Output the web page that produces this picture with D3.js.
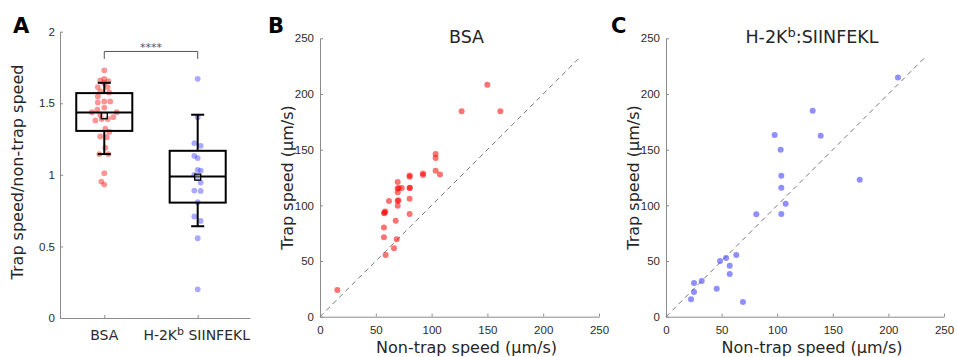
<!DOCTYPE html>
<html>
<head>
<meta charset="utf-8">
<script src="https://cdn.jsdelivr.net/npm/d3@7"></script>
<style>
	body { margin: 0; background: #fff; }
	svg { font-family: "DejaVu Sans", Verdana, sans-serif; }
	.axis path, .axis line { stroke: #8c8c8c; }
	.axis text { fill: #2b2b2b; font-size: 11.5px; }
</style>
</head>
<body>
<div id="chart"></div>
<script>
// ---- data ----
const categories = ["BSA", "H-2Kb SIINFEKL"];
const ratioTicks = [0, 0.5, 1, 1.5, 2];
const speedTicks = [0, 50, 100, 150, 200, 250];

// panel A: individual ratios and their horizontal jitter (category units)
const bsaRatio = [1.73, 1.671, 1.66, 1.655, 1.64, 1.613, 1.613, 1.583, 1.576, 1.548, 1.506, 1.513, 1.513, 1.47,
	1.438, 1.455, 1.438, 1.38, 1.39, 1.39, 1.403, 1.42, 1.322, 1.30, 1.268, 1.263, 1.19, 1.145, 1.145, 1.012, 0.953, 0.932];
const bsaJitter = [0, 0, -0.043, 0.043, 0, -0.069, 0.037, -0.043, 0.053, -0.069, -0.069, 0, 0.064, 0,
	-0.133, -0.074, 0.133, -0.096, -0.027, 0.037, 0.096, -0.043, 0.011, 0.053, -0.043, 0.027, 0.011, -0.053, 0.043, 0, -0.032, 0];
const kbRatio = [1.671, 1.403, 1.222, 1.203, 1.133, 1.117, 1.035, 1.03, 1.0, 0.98, 0.946, 0.89, 0.888, 0.809, 0.709, 0.678, 0.557, 0.2];
const kbJitter = [0, 0, -0.036, 0.032, -0.036, 0, 0, 0.032, -0.036, 0, 0.032, -0.036, 0.032, 0, -0.036, 0.032, 0, 0];

// panel A: box statistics [BSA, H-2Kb]
const boxQ1 = [1.307, 0.806];
const boxMedian = [1.436, 0.988];
const boxQ3 = [1.571, 1.168];
const boxMean = [1.413, 0.984];
const whiskerLow = [1.145, 0.641];
const whiskerHigh = [1.643, 1.42];
const sigBracket = [1.81, 1.862];

// panel B: BSA non-trap vs trap speed (µm/s)
const bsaNonTrap = [15.5, 58.8, 66.3, 68.7, 57.3, 57.3, 67.8, 80.3, 57.5, 58.5, 57.8, 61.8, 69.6, 69.6, 70.2, 80.3, 69.6,
	69.6, 70.5, 69.6, 73.2, 80.3, 80.5, 80.3, 80.3, 92.3, 92.3, 103.6, 107.5, 103.6, 103.6, 126.9, 149.9, 161.6];
const bsaTrap = [24, 55.4, 61.4, 69.5, 71.3, 80.2, 86.2, 92.2, 93, 94.5, 93.5, 103.9, 99.6, 103.9, 104.5, 105.9, 111.7,
	115.2, 115.5, 120.9, 115.5, 115.5, 115.8, 125.7, 126.9, 127.3, 128.6, 131, 127.8, 142.4, 146, 184.6, 208.2, 184.6];

// panel C: H-2Kb:SIINFEKL non-trap vs trap speed (µm/s)
const kbNonTrap = [22.5, 25.2, 25.2, 32.1, 45.6, 48.6, 54, 57.3, 57.3, 63.2, 69.2, 81.2, 103.7, 107.6, 103.7, 103.7,
	103.1, 97.7, 131.9, 139.1, 174.2, 208.6];
const kbTrap = [15.6, 22.2, 30.2, 32, 25.1, 50, 52.7, 45.8, 38.3, 55.4, 13.2, 91.9, 92.2, 101.4, 115.8, 126.6,
	149.9, 163.1, 184.9, 162.5, 123, 214.9];

const diagonal = [0, 233];

// ---- drawing ----
const W = 957, H = 357;
const svg = d3.select("#chart").append("svg").attr("width", W).attr("height", H);

const red = "#ff0000", blue = "#3333ff";

function panelLabel(txt, x) {
	svg.append("text").attr("x", x).attr("y", 32.5)
		.attr("font-size", 21).attr("font-weight", "bold").attr("fill", "#000").text(txt);
}

// ======== Panel A ========
const xA = d3.scaleLinear().domain([0.526, 2.56]).range([60, 250]);
const yA = d3.scaleLinear().domain([0, 2]).range([318, 31.7]);

const gA = svg.append("g");
gA.append("g").attr("class", "axis").attr("transform", "translate(60,0)")
	.call(d3.axisLeft(yA).tickValues(ratioTicks).tickSize(-3).tickSizeOuter(0).tickPadding(5)
		.tickFormat(d3.format("")));
gA.append("g").attr("class", "axis").attr("transform", "translate(0,318)")
	.call(d3.axisBottom(xA).tickValues([1, 2]).tickSize(-3).tickSizeOuter(0).tickFormat(""));

// category labels (with superscript)
gA.append("text").attr("x", xA(1)).attr("y", 340).attr("text-anchor", "middle")
	.attr("font-size", 14).attr("fill", "#2b2b2b").text(categories[0]);
const lab2 = gA.append("text").attr("x", xA(2) - 1).attr("y", 340).attr("text-anchor", "middle")
	.attr("font-size", 14).attr("fill", "#2b2b2b");
lab2.append("tspan").text("H-2K");
lab2.append("tspan").attr("dy", -5).attr("font-size", 11).text("b");
lab2.append("tspan").attr("dy", 5).text(" SIINFEKL");

gA.append("text").attr("transform", "translate(23,172) rotate(-90)").attr("text-anchor", "middle")
	.attr("font-size", 16).attr("fill", "#262626").text("Trap speed/non-trap speed");

// dots
const dotsA = [
	...bsaRatio.map((v, i) => ({ x: 1 + bsaJitter[i], y: v, c: red })),
	...kbRatio.map((v, i) => ({ x: 2 + kbJitter[i], y: v, c: blue })),
];
gA.append("g").selectAll("circle").data(dotsA).join("circle")
	.attr("cx", (d) => xA(d.x)).attr("cy", (d) => yA(d.y)).attr("r", 2.9)
	.attr("fill", (d) => d.c).attr("fill-opacity", 0.42);

// boxes
const boxW = 0.6, capW = 0.14;
[0, 1].forEach((i) => {
	const c = i + 1;
	const g = gA.append("g").attr("fill", "none").attr("stroke", "#000").attr("stroke-width", 2);
	g.append("line").attr("x1", xA(c)).attr("x2", xA(c)).attr("y1", yA(boxQ3[i])).attr("y2", yA(whiskerHigh[i]));
	g.append("line").attr("x1", xA(c)).attr("x2", xA(c)).attr("y1", yA(boxQ1[i])).attr("y2", yA(whiskerLow[i]));
	g.append("line").attr("x1", xA(c - capW / 2)).attr("x2", xA(c + capW / 2))
		.attr("y1", yA(whiskerHigh[i])).attr("y2", yA(whiskerHigh[i]));
	g.append("line").attr("x1", xA(c - capW / 2)).attr("x2", xA(c + capW / 2))
		.attr("y1", yA(whiskerLow[i])).attr("y2", yA(whiskerLow[i]));
	g.append("rect").attr("x", xA(c - boxW / 2)).attr("y", yA(boxQ3[i]))
		.attr("width", xA(c + boxW / 2) - xA(c - boxW / 2)).attr("height", yA(boxQ1[i]) - yA(boxQ3[i]));
	g.append("line").attr("x1", xA(c - boxW / 2)).attr("x2", xA(c + boxW / 2))
		.attr("y1", yA(boxMedian[i])).attr("y2", yA(boxMedian[i]));
	g.append("rect").attr("x", xA(c) - 3).attr("y", yA(boxMean[i]) - 3).attr("width", 6).attr("height", 6)
		.attr("stroke-width", 1.3).attr("fill", "#fff").attr("fill-opacity", 0.3);
});

// significance bracket
gA.append("path")
	.attr("d", `M${xA(1)},${yA(sigBracket[0])}V${yA(sigBracket[1])}H${xA(2)}V${yA(sigBracket[0])}`)
	.attr("fill", "none").attr("stroke", "#555").attr("stroke-width", 1);
gA.append("text").attr("x", (xA(1) + xA(2)) / 2).attr("y", 51).attr("text-anchor", "middle")
	.attr("font-size", 11).attr("fill", "#555").text("****");

panelLabel("A", 13);

// ======== Panels B and C ========
function scatterPanel(x0, x1, nonTrap, trap, color, title) {
	const x = d3.scaleLinear().domain([0, 250]).range([x0, x1]);
	const y = d3.scaleLinear().domain([0, 250]).range([316.7, 38.3]);
	const g = svg.append("g");

	g.append("g").attr("class", "axis").attr("transform", `translate(${x0},0)`)
		.call(d3.axisLeft(y).tickValues(speedTicks).tickSize(-3).tickSizeOuter(0).tickPadding(6));
	g.append("g").attr("class", "axis").attr("transform", `translate(0,${y(0)})`)
		.call(d3.axisBottom(x).tickValues(speedTicks).tickSize(-3).tickSizeOuter(0).tickPadding(9));

	g.append("line")
		.attr("x1", x(diagonal[0])).attr("y1", y(diagonal[0]))
		.attr("x2", x(diagonal[1])).attr("y2", y(diagonal[1]))
		.attr("stroke", "#777").attr("stroke-width", 1).attr("stroke-dasharray", "5,4");

	g.append("g").selectAll("circle").data(nonTrap.map((v, i) => [v, trap[i]])).join("circle")
		.attr("cx", (d) => x(d[0])).attr("cy", (d) => y(d[1])).attr("r", 3)
		.attr("fill", color).attr("fill-opacity", 0.55);

	g.append("text").attr("x", (x0 + x1) / 2 + 7).attr("y", 353).attr("text-anchor", "middle")
		.attr("font-size", 16).attr("fill", "#262626").text("Non-trap speed (µm/s)");
	g.append("text").attr("transform", `translate(${x0 - 27},${(y(0) + y(250)) / 2}) rotate(-90)`)
		.attr("text-anchor", "middle").attr("font-size", 16).attr("fill", "#262626").text("Trap speed (µm/s)");

	const t = g.append("text").attr("x", (x0 + x1) / 2 + 7).attr("y", 42.7).attr("text-anchor", "middle")
		.attr("font-size", 17.5).attr("fill", "#262626");
	title.forEach((part) => {
		const s = t.append("tspan").text(part.text);
		if (part.sup) s.attr("dy", -6).attr("font-size", 13);
		if (part.after) s.attr("dy", 6);
	});
}

scatterPanel(320, 599, bsaNonTrap, bsaTrap, red, [{ text: "BSA" }]);
scatterPanel(666, 944, kbNonTrap, kbTrap, blue,
	[{ text: "H-2K" }, { text: "b", sup: true }, { text: ":SIINFEKL", after: true }]);

panelLabel("B", 268);
panelLabel("C", 611);
</script>
</body>
</html>
